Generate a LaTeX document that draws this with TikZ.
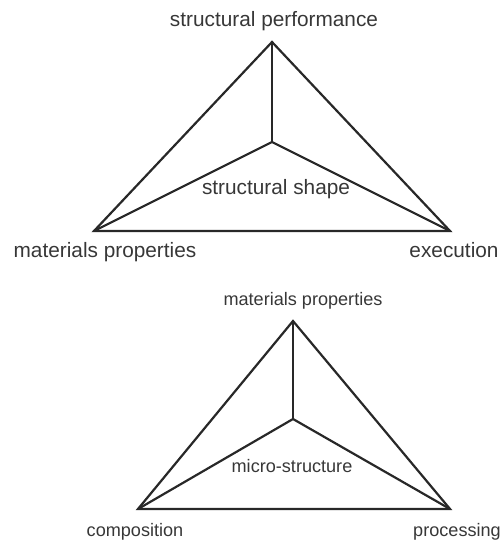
\documentclass[tikz,border=0pt]{standalone}
\usepackage{fontspec}
\setmainfont{Liberation Sans}
\usetikzlibrary{positioning}

\definecolor{edge}{RGB}{40,40,40}
\definecolor{ink}{RGB}{55,55,55}

\begin{document}
\begin{tikzpicture}[x=0.5bp,y=-0.5bp,
  side/.style={draw=edge,line width=1.1bp,line join=miter},
  biglabel/.style={text=ink,anchor=base,inner sep=0pt,font=\fontsize{10.4bp}{12bp}\selectfont},
  smalllabel/.style={text=ink,anchor=base,inner sep=0pt,font=\fontsize{9.05bp}{11bp}\selectfont}]

\useasboundingbox (0,0) rectangle (502,540);

% upper triangle
\coordinate (perf) at (272,42);
\coordinate (mat) at (94,231);
\coordinate (exec) at (450,231);
\coordinate (shape) at (272,142);

\draw[side] (perf) -- (mat) -- (exec) -- cycle;
\draw[side] (perf) -- (shape);
\draw[side] (mat) -- (shape) -- (exec);

\node[biglabel] (perflabel) at (274,27) {structural performance};
\node[biglabel] (matlabel) at (105,258) {materials properties};
\node[biglabel] (execlabel) at (454,258) {execution};
\node[biglabel] (shapelabel) at (276,195) {structural shape};

% lower triangle
\coordinate (prop) at (293,321);
\coordinate (comp) at (138,509);
\coordinate (proc) at (450,509);
\coordinate (micro) at (293,419);

\draw[side] (prop) -- (comp) -- (proc) -- cycle;
\draw[side] (prop) -- (micro);
\draw[side] (comp) -- (micro) -- (proc);

\node[smalllabel] (proplabel) at (303,305) {materials properties};
\node[smalllabel] (microlabel) at (292,472) {micro-structure};
\node[smalllabel] (complabel) at (135,536) {composition};
\node[smalllabel] (proclabel) at (457,536) {processing};

\end{tikzpicture}
\end{document}
